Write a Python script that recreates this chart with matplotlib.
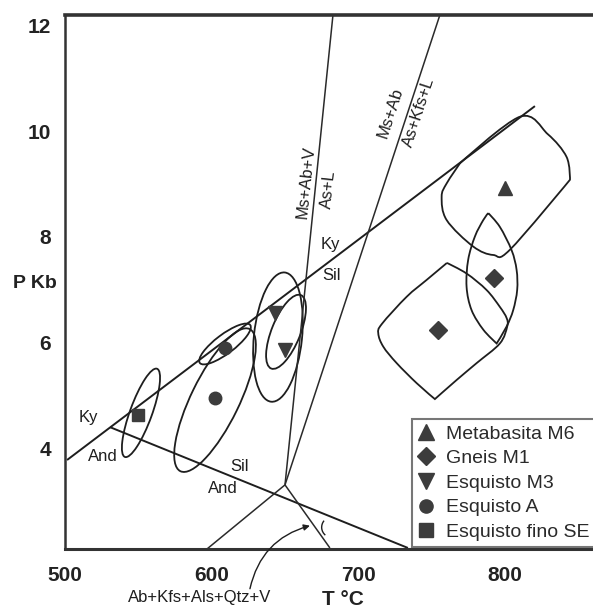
import numpy as np
import matplotlib
matplotlib.use('Agg')
import matplotlib.pyplot as plt
from matplotlib.path import Path
from matplotlib.patches import PathPatch, Ellipse, Arc
from matplotlib.transforms import Affine2D
from matplotlib.lines import Line2D

plt.rcParams['font.family'] = ['Liberation Sans', 'DejaVu Sans']

# ---------------- data ----------------
x_ticks = [500, 600, 700, 800]
y_ticks = [4, 6, 8, 10, 12]
x_lim = (500, 860)
y_lim = (2.11, 12.19)

# reaction lines (T degC, P kb)
ky_sil_T = [501.4, 820.4]; ky_sil_P = [3.79, 10.47]
and_sil_T = [530.7, 733.8]; and_sil_P = [4.41, 2.13]
r1_T = [682.7, 650.0]; r1_P = [12.19, 3.32]
r2_T = [755.6, 650.0]; r2_P = [12.19, 3.32]
r3_T = [650.0, 596.8]; r3_P = [3.32, 2.11]
r4_T = [650.0, 680.6]; r4_P = [3.32, 2.13]

# sample points
metabasita_T = [800.0]; metabasita_P = [8.92]
gneis_T = [792.4, 754.3]; gneis_P = [7.23, 6.25]
esqM3_T = [643.2, 650.0]; esqM3_P = [6.57, 5.87]
esqA_T = [609.1, 602.3]; esqA_P = [5.90, 4.96]
fino_T = [549.8]; fino_P = [4.64]

# elliptical fields: centre T, centre P, semi-major (degC equiv.), semi-minor, angle (deg)
ell_cT = [551.8, 602.3, 609.1, 645.2, 650.7]
ell_cP = [4.68, 4.92, 5.98, 6.11, 6.21]
ell_a = [32.0, 53.9, 21.5, 44.3, 27.0]
ell_b = [7.5, 16.4, 6.5, 16.4, 9.8]
ell_ang = [70, 64, 37, 84, 68]

# free-form fields (outline points)
meta_field_T = [769.3, 810.2, 829.2, 842.0, 844.3, 803.4, 792.0, 778.3, 760.2, 756.8, 760.2]
meta_field_P = [9.39, 10.27, 9.94, 9.51, 9.08, 7.76, 7.66, 7.82, 8.32, 8.76, 9.01]
meta_corners = [0, 4]

lens_T = [788.6, 796.5, 804.5, 807.9, 808.3, 805.6, 801.1, 794.3, 785.2, 777.2, 773.8, 774.9, 779.5, 785.2]
lens_P = [8.45, 8.19, 7.75, 7.38, 7.00, 6.62, 6.31, 5.99, 6.25, 6.62, 7.06, 7.57, 8.01, 8.32]
lens_corners = [0, 7]

gfield_T = [760.4, 773.8, 787.4, 796.5, 801.1, 801.5, 796.5, 780.7, 767.0, 752.2, 739.8, 726.1, 717.0, 713.6, 716.1, 732.9, 746.6]
gfield_P = [7.51, 7.31, 7.00, 6.68, 6.47, 6.31, 5.99, 5.62, 5.30, 4.94, 5.24, 5.62, 5.93, 6.18, 6.36, 6.87, 7.19]
gfield_corners = [0, 9]

legend_labels = ['Metabasita M6', 'Gneis M1', 'Esquisto M3', 'Esquisto A', 'Esquisto fino SE']
legend_markers = ['^', 'D', 'v', 'o', 's']

# ---------------- figure ----------------
W, H = 593, 611
fig = plt.figure(figsize=(W / 100, H / 100), dpi=100)
ax = fig.add_axes([65 / W, 62 / H, 528 / W, 534 / H])
ax.set_xlim(*x_lim)
ax.set_ylim(*y_lim)

LC = '#1e1e1e'
MC = '#3c3c3c'

# isotropic helper transform (so shapes keep their visual proportions)
bb = ax.get_position()
wpx = bb.width * W
hpx = bb.height * H
k = ((y_lim[1] - y_lim[0]) / hpx) / ((x_lim[1] - x_lim[0]) / wpx)
iso = Affine2D().scale(1, k) + ax.transData

for T, P in [(ky_sil_T, ky_sil_P), (and_sil_T, and_sil_P)]:
    ax.plot(T, P, color=LC, lw=1.4, solid_capstyle='butt')
for T, P in [(r1_T, r1_P), (r2_T, r2_P), (r3_T, r3_P), (r4_T, r4_P)]:
    ax.plot(T, P, color='#2a2a2a', lw=1.1, solid_capstyle='butt')

for cT, cP, a, b, ang in zip(ell_cT, ell_cP, ell_a, ell_b, ell_ang):
    ax.add_patch(Ellipse((cT, cP / k), 2 * a, 2 * b, angle=ang, transform=iso,
                         fill=False, ec=LC, lw=1.3))


def smooth_closed(T, P, corners):
    pts = np.column_stack([np.asarray(T, float), np.asarray(P, float) / k])
    n = len(pts)
    tan = np.zeros_like(pts)
    for i in range(n):
        if i not in corners:
            tan[i] = (pts[(i + 1) % n] - pts[i - 1]) / 2.0
    verts = [pts[0]]
    codes = [Path.MOVETO]
    for i in range(n):
        j = (i + 1) % n
        verts += [pts[i] + tan[i] / 3.0, pts[j] - tan[j] / 3.0, pts[j]]
        codes += [Path.CURVE4] * 3
    return Path(verts, codes)


for T, P, c in [(meta_field_T, meta_field_P, meta_corners),
                (lens_T, lens_P, lens_corners),
                (gfield_T, gfield_P, gfield_corners)]:
    ax.add_patch(PathPatch(smooth_closed(T, P, c), transform=iso, fill=False, ec=LC, lw=1.3))

ax.plot(metabasita_T, metabasita_P, '^', color=MC, ms=10.5, ls='none')
ax.plot(gneis_T, gneis_P, 'D', color=MC, ms=9, ls='none')
ax.plot(esqM3_T, esqM3_P, 'v', color=MC, ms=10.5, ls='none')
ax.plot(esqA_T, esqA_P, 'o', color=MC, ms=9, ls='none')
ax.plot(fino_T, fino_P, 's', color=MC, ms=9, ls='none')

# labels inside
fs = 12
ax.text(515.7, 4.585, 'Ky', fontsize=fs, ha='center', va='center', color=LC)
ax.text(525.9, 3.85, 'And', fontsize=fs, ha='center', va='center', color=LC)
ax.text(619.3, 3.66, 'Sil', fontsize=fs, ha='center', va='center', color=LC)
ax.text(607.7, 3.26, 'And', fontsize=fs, ha='center', va='center', color=LC)
ax.text(680.6, 7.85, 'Ky', fontsize=fs, ha='center', va='center', color=LC)
ax.text(682.0, 7.28, 'Sil', fontsize=fs, ha='center', va='center', color=LC)
ax.text(664.5, 9.03, 'Ms+Ab+V', fontsize=fs, rotation=84, ha='center', va='center', color=LC)
ax.text(679.5, 8.90, 'As+L', fontsize=fs, rotation=84, ha='center', va='center', color=LC)
ax.text(721.6, 10.35, 'Ms+Ab', fontsize=fs, rotation=72, ha='center', va='center', color=LC)
ax.text(741.3, 10.35, 'As+Kfs+L', fontsize=fs, rotation=72, ha='center', va='center', color=LC)

ax.text(592.0, 1.19, 'Ab+Kfs+Als+Qtz+V', fontsize=fs, ha='center', va='center', color=LC, clip_on=False)
ax.annotate('', xy=(667.0, 2.55), xytext=(626.1, 1.36),
            arrowprops=dict(arrowstyle='-|>', connectionstyle='arc3,rad=-0.3', lw=1.0,
                            color=LC, mutation_scale=9, shrinkA=0, shrinkB=0),
            annotation_clip=False)
ax.add_patch(Arc((682.0, 2.52 / k), 14, 14, theta1=140, theta2=230, transform=iso, color=LC, lw=1.0))

# axes styling
ax.spines['right'].set_visible(False)
ax.spines['top'].set_linewidth(2.6)
ax.spines['left'].set_linewidth(1.8)
ax.spines['bottom'].set_linewidth(2.2)
for s in ['top', 'left', 'bottom']:
    ax.spines[s].set_color('#333333')

ax.set_xticks(x_ticks)
ax.set_yticks(y_ticks)
ax.set_xticklabels([str(v) for v in x_ticks], fontsize=15, fontweight='bold', color='#222')
ax.set_yticklabels([str(v) for v in y_ticks], fontsize=15, fontweight='bold', color='#222')
ax.tick_params(axis='x', length=0, pad=12)
ax.tick_params(axis='y', length=0, pad=10)

ax.set_xlabel('T °C', fontsize=15, fontweight='bold', color='#222', va='center')
ax.xaxis.set_label_coords(0.527, -0.094)
ax.set_ylabel('P Kb', fontsize=14, fontweight='bold', color='#222', rotation=0, va='center', ha='center')
ax.yaxis.set_label_coords(-0.057, 0.498)

handles = [Line2D([], [], marker=m, color=MC, ls='none', ms=11 if m in '^v' else 9.5) for m in legend_markers]
leg = ax.legend(handles, legend_labels, loc='lower left', bbox_to_anchor=(0.657, 0.004),
                borderaxespad=0, frameon=True, fancybox=False, fontsize=14,
                labelspacing=0.36, handlelength=0.9, handletextpad=0.55, borderpad=0.3,
                labelcolor='#2a2a2a')
leg.get_frame().set_edgecolor('#555555')
leg.get_frame().set_linewidth(1.5)

fig.savefig('out.png', dpi=100)
